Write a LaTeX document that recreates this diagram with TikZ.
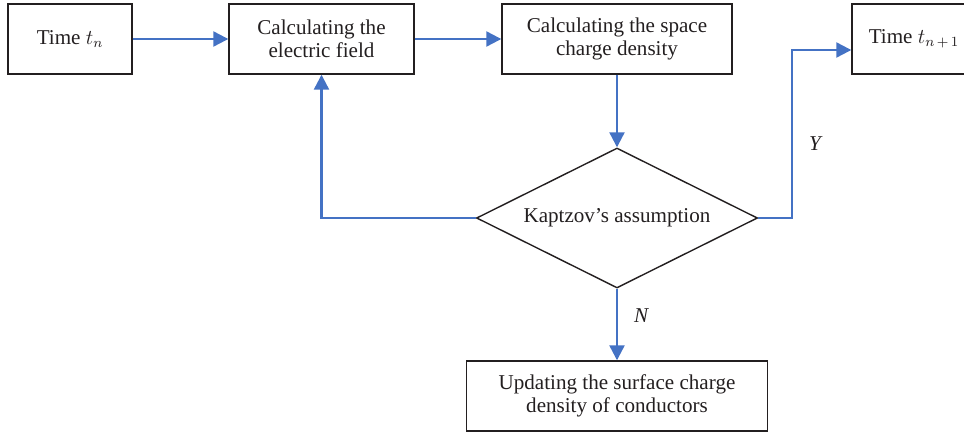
\documentclass[tikz,border=0pt]{standalone}
\usepackage{fontspec}
\setmainfont{Liberation Serif}
\usetikzlibrary{shapes.geometric,arrows.meta}
\definecolor{flowblue}{HTML}{4472C4}
\definecolor{inkgray}{HTML}{231F20}

\begin{document}
\begin{tikzpicture}[font=\fontsize{12}{13}\selectfont, text=inkgray]
  \tikzstyle{box} = [rectangle, draw=inkgray, line width=0.8pt, text centered,
                                    minimum height=1.4cm, inner sep=2pt]
  \tikzstyle{test} = [diamond, draw=inkgray, line width=0.8pt, aspect=2,
                                    minimum width=5.62cm, minimum height=2.8cm, inner sep=0pt]
  \tikzstyle{arr} = [-{Triangle[length=0.3cm, width=0.3cm]}, flowblue, line width=1.3pt]
\useasboundingbox (0,0) rectangle (19.28,-8.66);
\node[box, minimum width=2.48cm] (time1) at (1.40,-0.78) {Time $t_n$};
\node[box, minimum width=3.7cm, right of=time1, xshift=4.03cm, align=center](field){Calculating the\\electric field};
\node[box, minimum width=4.6cm, right of=field, xshift=4.91cm, align=center](space){Calculating the space\\charge density};
\node[box, minimum width=2.48cm, right of=space, xshift=4.94cm](time2){Time $t_{n\,+\,1}$};
\node[test, below of=space, yshift=-2.58cm](assume){Kaptzov's assumption};
\node[box, minimum width=6.02cm, below of=assume, yshift=-2.56cm, align=center](update){Updating the surface charge\\density of conductors};
\draw[arr] (time1) -- (field);
\draw[arr] (field) -- (space);
\draw[arr] (space) -- (assume);
\draw[arr] (assume.west) -| (field.south);
\draw[arr] (assume.east) -- ++(0.68,0) |- node[pos=0.22, right=0.2cm, text=inkgray]{\textit{Y}} ([yshift=-0.22cm]time2.west);
\draw[arr] (assume) -- node[pos=0.38, right=0.2cm, text=inkgray]{\textit{N}} (update);
\end{tikzpicture}
\end{document}
